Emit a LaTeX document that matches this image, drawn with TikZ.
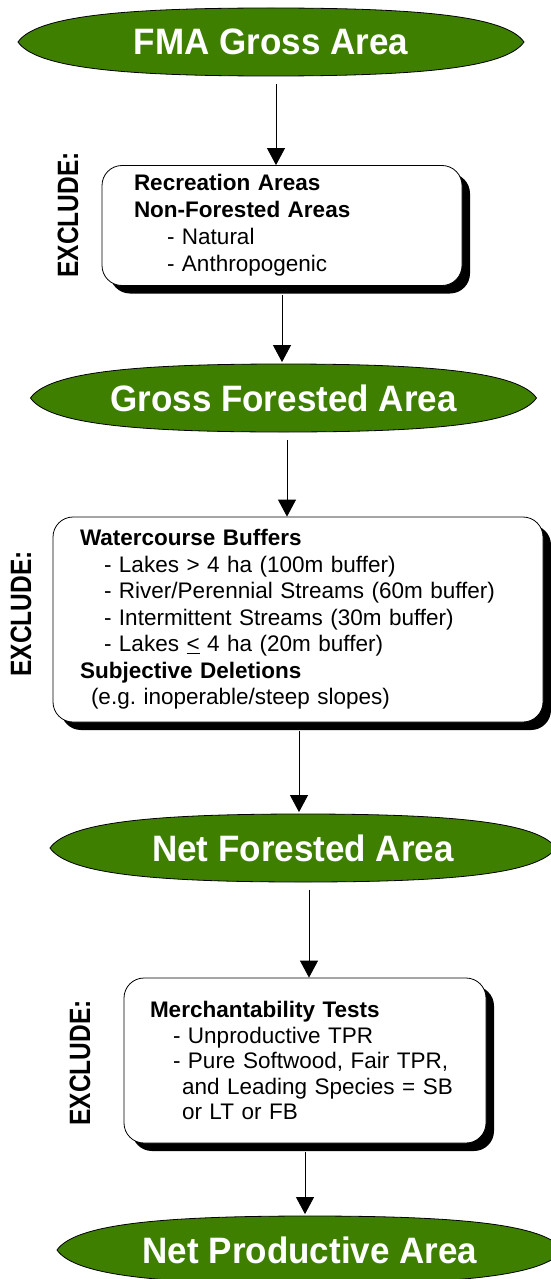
\documentclass[tikz,border=0pt]{standalone}
\usepackage{fontspec}
\setmainfont{Liberation Sans}
\frenchspacing
\usetikzlibrary{arrows.meta,shadows,calc}
\definecolor{ovalgreen}{RGB}{63,127,0}
\newcommand\lensshape[2]{%
  \draw[lensline] (#1-253,#2) .. controls (#1-235.3,#2-25.5) and (#1-151.8,#2-34) .. (#1,#2-34)
    .. controls (#1+151.8,#2-34) and (#1+235.3,#2-25.5) .. (#1+253,#2)
    .. controls (#1+235.3,#2+25.5) and (#1+151.8,#2+34) .. (#1,#2+34)
    .. controls (#1-151.8,#2+34) and (#1-235.3,#2+25.5) .. (#1-253,#2) -- cycle;}
\tikzset{
  lensline/.style={draw=black, line width=0.8pt, fill=ovalgreen},
  lenstext/.style={text=white, font=\fontsize{35}{40}\selectfont\bfseries,
    minimum width=506pt, minimum height=68pt, inner sep=0pt, yscale=1.05},
  boxstyle/.style={draw=black, line width=0.8pt, fill=white, rounded corners=20pt,
    drop shadow={shadow xshift=8pt, shadow yshift=-8pt, opacity=1, fill=black},
    align=left, inner ysep=0pt, anchor=center},
  excl/.style={rotate=90, yscale=1.2, font=\fontsize{24.5}{28}\selectfont\bfseries, inner sep=0pt},
  conn/.style={draw=black, line width=0.8pt, -{Triangle[width=18pt,length=17pt]}},
}
\begin{document}
\begin{tikzpicture}[x=1pt,y=-1pt]
\useasboundingbox (0,0) rectangle (551,1279);
% ovals
\lensshape{271}{42}
\node[lenstext] (o1) at (271,42) {FMA Gross Area};
\lensshape{283.5}{398}
\node[lenstext] (o2) at (283.5,398) {Gross Forested Area};
\lensshape{303}{848}
\node[lenstext] (o3) at (303,848) {Net Forested Area};
\lensshape{310}{1250}
\node[lenstext] (o4) at (310,1250) {Net Productive Area};
% boxes
\node[boxstyle, minimum height=120pt, text width=296pt, inner xsep=32pt,
  font=\fontsize{22.5}{27}\selectfont] (b1) at (282,225.5)
  {\textbf{Recreation Areas}\\
   \textbf{Non-Forested Areas}\\
   \hspace*{33pt}- Natural\\
   \hspace*{33pt}- Anthropogenic};
\node[boxstyle, minimum height=205pt, text width=436pt, inner xsep=27pt,
  font=\fontsize{22.5}{26.5}\selectfont] (b2) at (298,619.5)
  {\textbf{Watercourse Buffers}\\
   \hspace*{24pt}- Lakes > 4 ha (100m buffer)\\
   \hspace*{24pt}- River/Perennial Streams (60m buffer)\\
   \hspace*{24pt}- Intermittent Streams (30m buffer)\\
   \hspace*{24pt}- Lakes \underline{<} 4 ha (20m buffer)\\
   \textbf{Subjective Deletions}\\
   \hspace*{11pt}(e.g. inoperable/steep slopes)};
\node[boxstyle, minimum height=165pt, text width=310pt, inner xsep=26pt,
  font=\fontsize{22.5}{25.5}\selectfont] (b3) at (305,1060.5)
  {\textbf{Merchantability Tests}\\
   \hspace*{23pt}- Unproductive TPR\\
   \hspace*{23pt}- Pure Softwood, Fair TPR,\\
   \hspace*{32pt}and Leading Species = SB\\
   \hspace*{32pt}or LT or FB};
% exclude labels
\node[excl] (e1) at (68,215) {EXCLUDE:};
\node[excl] (e2) at (21,614) {EXCLUDE:};
\node[excl] (e3) at (80,1063) {EXCLUDE:};
% connectors
\coordinate (k1) at (276,0);
\coordinate (k2) at (282,0);
\coordinate (k3) at (287,0);
\coordinate (k4) at (299,0);
\coordinate (k5) at (309,0);
\coordinate (k6) at (305,0);
\draw[conn, shorten <=6pt] (o1.south -| k1) -- (b1.north -| k1);
\draw[conn, shorten <=9pt] (b1.south -| k2) -- (o2.north -| k2);
\draw[conn, shorten <=6pt] (o2.south -| k3) -- (b2.north -| k3);
\draw[conn, shorten <=9pt] (b2.south -| k4) -- (o3.north -| k4);
\draw[conn, shorten <=6pt] (o3.south -| k5) -- (b3.north -| k5);
\draw[conn, shorten <=9pt] (b3.south -| k6) -- (o4.north -| k6);
\end{tikzpicture}
\end{document}
